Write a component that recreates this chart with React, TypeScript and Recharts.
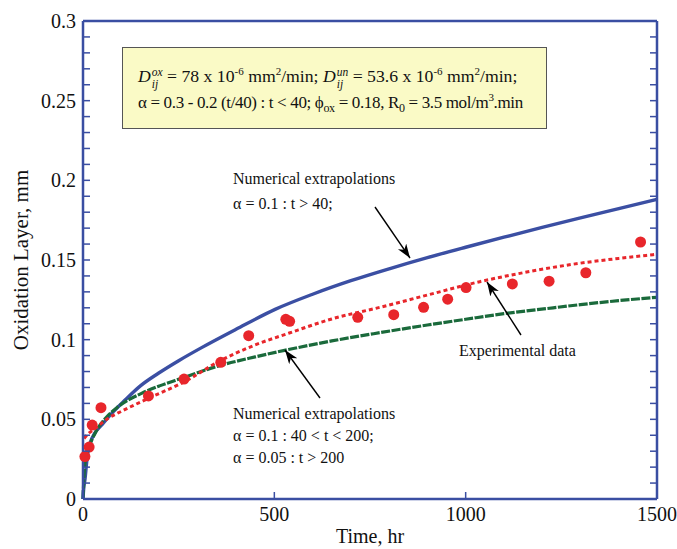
import { ComposedChart, Line, Scatter, XAxis, YAxis } from 'recharts';

const frameBlue = '#3a4ea2';
const serif = '"Liberation Serif", "Times New Roman", serif';

// x axis (hours)
const timeTicks = [0, 500, 1000, 1500];
// y axis (mm) - every 0.01 tick, labels only on the 0.05 ones
const layerTicks = Array.from({ length: 31 }, (_, i) => i / 100);
const layerLabels = [0, 0.05, 0.1, 0.15, 0.2, 0.25, 0.3];

// numerical extrapolation, alpha = 0.1 : t > 40
const blueTime = [0, 1, 2, 5, 10, 14, 20, 30, 49, 80, 110, 150, 197, 250, 310, 400, 502, 600, 700, 800, 900, 1000, 1100, 1200, 1300, 1400, 1500];
const blueLayer = [0, 0.004, 0.007, 0.012, 0.024, 0.031, 0.036, 0.041, 0.0465, 0.055, 0.0621, 0.071, 0.0789, 0.0868, 0.095, 0.1065, 0.119, 0.1285, 0.137, 0.1445, 0.1515, 0.158, 0.1643, 0.1705, 0.1765, 0.1823, 0.188];

// numerical extrapolation, alpha = 0.1 / 0.05
const greenTime = [0, 1, 5, 15, 31, 60, 92, 153, 200, 258, 354, 450, 537, 650, 776, 900, 1000, 1100, 1211, 1300, 1400, 1500];
const greenLayer = [0, 0.006, 0.022, 0.032, 0.041, 0.051, 0.058, 0.0663, 0.071, 0.0758, 0.0835, 0.0892, 0.0938, 0.0992, 0.1044, 0.1092, 0.1128, 0.1163, 0.1195, 0.122, 0.1245, 0.1266];

// fit through experimental data (red dotted)
const fitTime = [3, 14, 30, 66, 100, 171, 266, 354, 450, 537, 650, 776, 900, 1037, 1150, 1299, 1400, 1500];
const fitLayer = [0.038, 0.041, 0.044, 0.0507, 0.055, 0.0632, 0.0737, 0.0862, 0.0967, 0.104, 0.113, 0.1203, 0.128, 0.1364, 0.142, 0.148, 0.151, 0.1536];

// experimental data
const expTime = [5, 16, 24, 47, 171, 264, 360, 433, 530, 540, 718, 812, 890, 953, 1001, 1122, 1218, 1314, 1457];
const expLayer = [0.0266, 0.0326, 0.0464, 0.0573, 0.0647, 0.0753, 0.0858, 0.1025, 0.1128, 0.1115, 0.114, 0.1157, 0.1203, 0.1254, 0.1327, 0.135, 0.1367, 0.142, 0.1613];

const zip = (ts: number[], vs: number[]) => ts.map((t, i) => ({ t, v: vs[i] }));
const blueData = zip(blueTime, blueLayer);
const greenData = zip(greenTime, greenLayer);
const fitData = zip(fitTime, fitLayer);
const expData = zip(expTime, expLayer);

const TICK = 7;

function LeftTick(props: any) {
  const { x, y, payload } = props;
  const v = payload.value;
  return (
    <g>
      <line x1={x} x2={x + TICK} y1={y} y2={y} stroke={frameBlue} strokeWidth={1.5} />
      {layerLabels.includes(v) && (
        <text x={x - 7} y={y} textAnchor="end" dominantBaseline="central" fontFamily={serif} fontSize={20} fill="#111">
          {String(v)}
        </text>
      )}
    </g>
  );
}

function RightTick(props: any) {
  const { x, y } = props;
  return <line x1={x} x2={x - TICK} y1={y} y2={y} stroke={frameBlue} strokeWidth={1.5} />;
}

function BottomTick(props: any) {
  const { x, y, payload } = props;
  const v = payload.value;
  const inner = v > 0 && v < 1500;
  return (
    <g>
      {inner && <line x1={x} x2={x} y1={y} y2={y - TICK} stroke={frameBlue} strokeWidth={1.5} />}
      <text x={x} y={y + 22} textAnchor="middle" fontFamily={serif} fontSize={20} fill="#111">
        {String(v)}
      </text>
    </g>
  );
}

function TopTick(props: any) {
  const { x, y, payload } = props;
  const v = payload.value;
  if (v <= 0 || v >= 1500) return <g />;
  return <line x1={x} x2={x} y1={y} y2={y + TICK} stroke={frameBlue} strokeWidth={1.5} />;
}

const Dij = ({ sup }: { sup: string }) => (
  <span style={{ fontStyle: 'italic' }}>
    D
    <span style={{ display: 'inline-block', fontSize: 11.5, lineHeight: '12px', verticalAlign: -6, marginLeft: 1 }}>
      <span style={{ display: 'block' }}>{sup}</span>
      <span style={{ display: 'block' }}>ij</span>
    </span>
  </span>
);

const sup = (s: string) => <sup style={{ fontSize: 11, lineHeight: 0 }}>{s}</sup>;
const sub = (s: string) => <sub style={{ fontSize: 12, lineHeight: 0 }}>{s}</sub>;

function Notes() {
  const txt = { fontFamily: serif, fontSize: 16, fill: '#111' } as const;
  return (
    <svg width={677} height={549} style={{ position: 'absolute', left: 0, top: 0, pointerEvents: 'none' }}>
      <defs>
        <marker id="head" markerUnits="userSpaceOnUse" markerWidth={16} markerHeight={12} refX={14} refY={5} orient="auto">
          <path d="M0,0 L14,5 L0,10 L4,5 Z" fill="#000" />
        </marker>
      </defs>
      <text x={233} y={184} {...txt}>Numerical extrapolations</text>
      <text x={233} y={209} {...txt}>α = 0.1 : t &gt; 40;</text>
      <line x1={375} y1={207} x2={410} y2={258} stroke="#000" strokeWidth={1.4} markerEnd="url(#head)" />

      <text x={459} y={356} {...txt}>Experimental data</text>
      <line x1={521} y1={335} x2={487} y2={282} stroke="#000" strokeWidth={1.4} markerEnd="url(#head)" />

      <text x={233} y={419} {...txt}>Numerical extrapolations</text>
      <text x={233} y={441} {...txt}>α = 0.1 : 40 &lt; t &lt; 200;</text>
      <text x={233} y={463} {...txt}>α = 0.05 : t &gt; 200</text>
      <line x1={320} y1={398} x2={285} y2={350} stroke="#000" strokeWidth={1.4} markerEnd="url(#head)" />

      <text transform="translate(28,260) rotate(-90)" textAnchor="middle" fontFamily={serif} fontSize={21} fill="#111">
        Oxidation Layer, mm
      </text>
      <text x={370} y={543} textAnchor="middle" fontFamily={serif} fontSize={20} fill="#111">
        Time, hr
      </text>
    </svg>
  );
}

function InfoBox() {
  return (
    <div
      style={{
        position: 'absolute',
        left: 122,
        top: 47,
        width: 425,
        height: 82,
        boxSizing: 'border-box',
        background: '#fafac6',
        border: '1.5px solid #555',
        fontFamily: serif,
        color: '#111',
        paddingLeft: 15,
        paddingTop: 14,
        whiteSpace: 'nowrap',
      }}
    >
      <div style={{ lineHeight: '28px', fontSize: 17.7 }}>
        <Dij sup="ox" /> = 78 x 10{sup('-6')} mm{sup('2')}/min; <Dij sup="un" /> = 53.6 x 10{sup('-6')} mm{sup('2')}/min;
      </div>
      <div style={{ lineHeight: '26px', fontSize: 17, letterSpacing: -0.35 }}>
        α = 0.3 - 0.2 (t/40) : t &lt; 40; ϕ{sub('ox')} = 0.18, R{sub('0')} = 3.5 mol/m{sup('3')}.min
      </div>
    </div>
  );
}

export default function App() {
  return (
    <div style={{ position: 'absolute', left: 0, top: 0, width: 677, height: 549, background: '#fff' }}>
      <ComposedChart width={677} height={549} margin={{ top: 0, right: 0, bottom: 0, left: 0 }}>
        <XAxis
          dataKey="t"
          type="number"
          domain={[0, 1500]}
          ticks={timeTicks}
          interval={0}
          height={50}
          tickSize={0}
          tickMargin={0}
          tickLine={false}
          axisLine={{ stroke: frameBlue, strokeWidth: 2.5 }}
          tick={<BottomTick />}
        />
        <XAxis
          xAxisId="top"
          orientation="top"
          type="number"
          domain={[0, 1500]}
          allowDataOverflow
          ticks={timeTicks}
          interval={0}
          height={21}
          tickSize={0}
          tickMargin={0}
          tickLine={false}
          axisLine={{ stroke: frameBlue, strokeWidth: 2.5 }}
          tick={<TopTick />}
        />
        <YAxis
          dataKey="v"
          type="number"
          domain={[0, 0.3]}
          ticks={layerTicks}
          interval={0}
          width={83}
          tickSize={0}
          tickMargin={0}
          tickLine={false}
          axisLine={{ stroke: frameBlue, strokeWidth: 2.5 }}
          tick={<LeftTick />}
        />
        <YAxis
          yAxisId="r"
          orientation="right"
          type="number"
          domain={[0, 0.3]}
          allowDataOverflow
          ticks={layerTicks}
          interval={0}
          width={20}
          tickSize={0}
          tickMargin={0}
          tickLine={false}
          axisLine={{ stroke: frameBlue, strokeWidth: 2.5 }}
          tick={<RightTick />}
        />
        <Line data={blueData} dataKey="v" type="monotone" stroke="#3b4fa3" strokeWidth={3.4} dot={false} isAnimationActive={false} />
        <Line data={greenData} dataKey="v" type="monotone" stroke="#1a6a3b" strokeWidth={3.2} strokeDasharray="9 1.5" dot={false} isAnimationActive={false} />
        <Line data={fitData} dataKey="v" type="monotone" stroke="#e8262b" strokeWidth={3} strokeDasharray="4 3" dot={false} isAnimationActive={false} />
        <Scatter
          data={expData}
          dataKey="v"
          fill="#e8262b"
          isAnimationActive={false}
          shape={(p: any) => <circle cx={p.cx} cy={p.cy} r={5.5} fill="#e8262b" />}
        />
      </ComposedChart>
      <InfoBox />
      <Notes />
    </div>
  );
}
